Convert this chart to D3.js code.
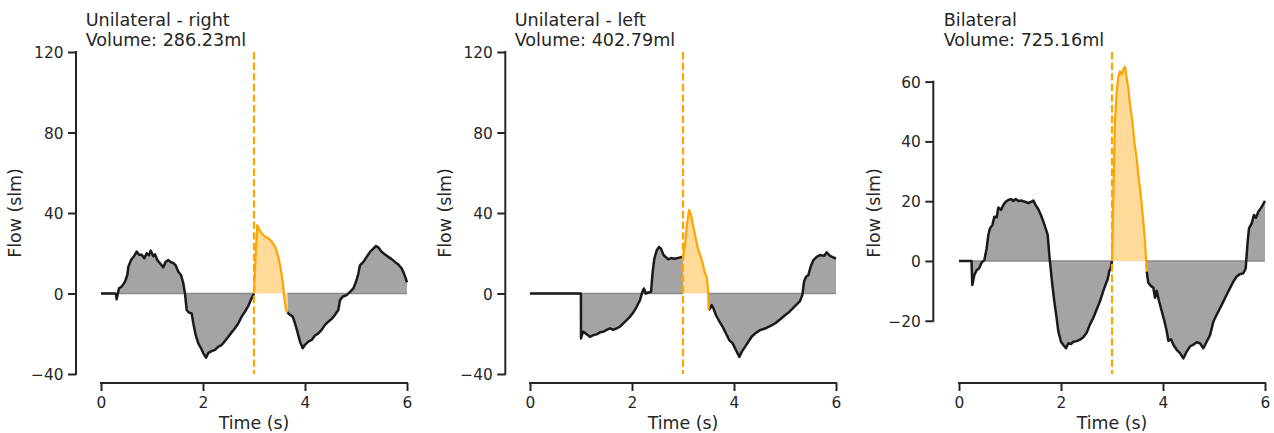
<!DOCTYPE html>
<html>
<head>
<meta charset="utf-8">
<script src="https://cdn.jsdelivr.net/npm/d3@7"></script>
<style>
  html, body { margin: 0; padding: 0; background: #ffffff; }
  svg { display: block; }
  text { font-family: "DejaVu Sans", sans-serif; fill: #262626; }
</style>
</head>
<body>
<svg id="chart" width="1274" height="433"></svg>
<script>
// ---- data -------------------------------------------------------------
const titles = ["Unilateral - right", "Unilateral - left", "Bilateral"];
const volumes = ["286.23", "402.79", "725.16"];

// trigger instant (s) and end of the exhalation window for each recording
const triggerTime = 3;
const exhaleEnd = [3.654, 3.503, 3.68];

const timeTicks = [0, 2, 4, 6];
const flowTicksUnilateral = [-40, 0, 40, 80, 120];
const flowTicksBilateral = [-20, 0, 20, 40, 60];

const timeRight = [0, 0.28, 0.295, 0.307, 0.33, 0.353, 0.405, 0.471, 0.516, 0.536, 0.588, 0.654, 0.699, 0.745, 0.797,
  0.850, 0.895, 0.941, 0.974, 1.026, 1.059, 1.105, 1.157, 1.222, 1.268, 1.320, 1.373, 1.418, 1.464, 1.516,
  1.569, 1.614, 1.647, 1.680, 1.725, 1.778, 1.810, 1.856, 1.908, 1.961, 2.007, 2.059, 2.105, 2.170, 2.235,
  2.301, 2.366, 2.431, 2.497, 2.562, 2.627, 2.693, 2.758, 2.824, 2.889, 2.954, 3.0, 3.03, 3.065, 3.105,
  3.150, 3.216, 3.281, 3.346, 3.412, 3.477, 3.523, 3.562, 3.595, 3.627, 3.654, 3.706, 3.758, 3.804, 3.850,
  3.902, 3.954, 4.0, 4.065, 4.131, 4.196, 4.261, 4.327, 4.392, 4.458, 4.523, 4.588, 4.654, 4.686, 4.739,
  4.817, 4.882, 4.948, 5.0, 5.046, 5.078, 5.144, 5.209, 5.275, 5.340, 5.392, 5.438, 5.503, 5.569, 5.634,
  5.699, 5.765, 5.830, 5.895, 5.941, 5.975, 6.0];
const flowRight = [0, 0, -0.5, -2.9, 0, 2.6, 3.4, 5.9, 9.2, 13.3, 16.6, 18.8, 20.8, 19.3, 19.3,
  17.5, 20, 19.0, 21.3, 18.5, 19.5, 16.6, 15, 13, 15.8, 16.6, 15.5, 15.2, 14.0, 10.8,
  9.2, 5, 0, -8.2, -9.5, -9.9, -14.8, -20.6, -24.8, -27.2, -29.7, -31.9, -29.5, -28.6, -28.0,
  -26.4, -25.6, -23.6, -21.5, -19.3, -17.3, -14.8, -11.5, -9, -6.1, -2.4, 0, 18, 34, 31.6,
  29.9, 28.2, 27.4, 25.8, 23.3, 18.3, 12.5, 5.9, -2.4, -8.2, -9.4, -10.6, -11.5, -14.8, -18.9,
  -23.9, -27.2, -25.5, -23.9, -23.1, -20.9, -19.8, -18.1, -15.6, -14.0, -12.6, -10.6, -8.2, -3.3, -1.6,
  -0.8, 0.8, 2.5, 5.8, 9.9, 14.0, 15.7, 18.2, 20.7, 22.3, 23.6, 22.9, 20.7, 19.4, 18.2,
  17.1, 15.7, 14.4, 12.5, 9.9, 7.5, 5.5];

const timeLeft = [0, 0.998, 1.0, 1.02, 1.046, 1.111, 1.176, 1.242, 1.307, 1.373, 1.438, 1.503, 1.569, 1.634, 1.699,
  1.765, 1.830, 1.895, 1.961, 2.026, 2.092, 2.157, 2.203, 2.235, 2.268, 2.320, 2.373, 2.405, 2.438, 2.484,
  2.529, 2.569, 2.614, 2.660, 2.712, 2.765, 2.830, 2.895, 2.961, 3.0, 3.039, 3.072, 3.118, 3.157, 3.203,
  3.248, 3.301, 3.346, 3.386, 3.431, 3.464, 3.490, 3.503, 3.529, 3.562, 3.60, 3.647, 3.712, 3.778, 3.843,
  3.908, 3.974, 4.039, 4.105, 4.150, 4.216, 4.281, 4.346, 4.412, 4.510, 4.608, 4.706, 4.804, 4.902, 5.0,
  5.098, 5.196, 5.294, 5.340, 5.373, 5.412, 5.458, 5.503, 5.556, 5.621, 5.686, 5.765, 5.817, 5.882, 5.948, 6.0];
const flowLeft = [0, 0, -22.3, -20.5, -19.0, -20.3, -21.5, -20.7, -20.3, -19.3, -19.0, -18.1, -17.3, -18.0, -17.3,
  -16.5, -14.8, -13.2, -11.5, -9.4, -6.6, -3.3, 0.8, 2.5, 0, 0.5, 0.8, 10.7, 17.3, 21.4,
  23.1, 22.3, 19.3, 18.1, 17.0, 17.6, 17.3, 17.6, 18.1, 18.0, 24.1, 33.2, 41.5, 39.0, 33.2,
  27.4, 21.6, 18.3, 15.0, 10.0, 8.4, 2.5, -8.3, -7.5, -5.8, -7.5, -10.8, -13.8, -16.6, -19.9,
  -23.2, -24.8, -28.2, -31.5, -29.0, -26.5, -24.0, -21.5, -19.9, -18.2, -17.4, -16.2, -14.9, -12.9, -10.8,
  -8.8, -6.3, -3.8, -0.8, 5.8, 8.3, 9.1, 13.3, 16.6, 18.2, 19.1, 18.7, 20.4, 18.7, 17.9, 17.4];

const timeBilateral = [0, 0.245, 0.261, 0.301, 0.346, 0.392, 0.444, 0.497, 0.542, 0.575, 0.608, 0.654, 0.693, 0.739, 0.771,
  0.824, 0.869, 0.915, 0.967, 1.020, 1.065, 1.111, 1.163, 1.229, 1.294, 1.359, 1.412, 1.458, 1.503, 1.556,
  1.608, 1.654, 1.699, 1.739, 1.771, 1.797, 1.830, 1.869, 1.915, 1.948, 2.000, 2.046, 2.098, 2.144, 2.196,
  2.242, 2.307, 2.373, 2.438, 2.503, 2.569, 2.634, 2.699, 2.765, 2.830, 2.876, 2.915, 2.948, 2.975, 3.0,
  3.026, 3.059, 3.092, 3.124, 3.157, 3.190, 3.222, 3.255, 3.288, 3.320, 3.353, 3.399, 3.438, 3.484, 3.516,
  3.569, 3.614, 3.647, 3.680, 3.712, 3.765, 3.810, 3.843, 3.876, 3.922, 3.974, 4.026, 4.072, 4.105, 4.157,
  4.203, 4.268, 4.333, 4.399, 4.464, 4.529, 4.595, 4.660, 4.725, 4.791, 4.856, 4.922, 4.987, 5.052, 5.118,
  5.183, 5.248, 5.314, 5.379, 5.444, 5.510, 5.575, 5.621, 5.660, 5.686, 5.739, 5.784, 5.824, 5.869, 5.915,
  5.954, 6.0];
const flowBilateral = [0, 0, -8.0, -4.7, -3.1, -2.5, -0.5, 0.3, 4.2, 8.7, 10.9, 12.0, 14.8, 14.6, 17.9,
  17.1, 18.7, 19.8, 20.4, 20.7, 20.1, 20.7, 20.1, 20.2, 19.8, 19.4, 19.8, 20.2, 18.7, 17.3,
  15.3, 13.2, 10.9, 8.7, 2.0, -2.5, -8.0, -13.6, -19.2, -23.6, -27.0, -28.1, -29.2, -27.5, -27.8,
  -27.0, -26.8, -26.3, -25.5, -24.0, -21.2, -19.0, -16.2, -13.4, -10.0, -7.8, -6.1, -3.3, -2.5, 0,
  22.1, 46.6, 56.7, 61.7, 63.4, 62.3, 64.0, 65.0, 61.1, 57.8, 52.2, 46.6, 39.9, 34.3, 28.8,
  21.0, 13.2, 6.5, -3.5, -7.3, -8.4, -8.9, -12.3, -10.0, -13.4, -16.7, -20.0, -23.4, -26.7, -26.2,
  -28.0, -29.7, -30.8, -32.6, -30.3, -28.6, -28.0, -27.2, -27.5, -29.2, -27.0, -24.8, -20.3, -18.0, -15.8,
  -13.6, -11.3, -9.1, -6.9, -5.2, -4.4, -4.1, -2.5, 6.5, 10.9, 12.6, 15.4, 14.5, 16.5, 17.6,
  18.7, 20.1];

// ---- layout -----------------------------------------------------------
const panels = [
  { time: timeRight, flow: flowRight, yDomain: [-40, 120], yTicks: flowTicksUnilateral, x0: 101, spineX: 76, labelX: 20.8 },
  { time: timeLeft, flow: flowLeft, yDomain: [-40, 120], yTicks: flowTicksUnilateral, x0: 530, spineX: 505.3, labelX: 450.8 },
  { time: timeBilateral, flow: flowBilateral, yDomain: [-37.8, 69.9], yTicks: flowTicksBilateral, x0: 959, spineX: 933.3, labelX: 879.8 }
];
const plotTop = 52, plotBottom = 374, xSpineY = 383, plotWidth = 306;
const tickLen = 8;

const colors = {
  text: "#262626",
  line: "#1a1a1a",
  fill: "#a4a4a4",
  zero: "#8a8a8a",
  orange: "#ffa500",
  orangeFill: "#ffda98"
};

const svg = d3.select("#chart");

panels.forEach((p, i) => {
  const data = p.time.map((t, k) => ({ t, v: p.flow[k] }));
  const end = exhaleEnd[i];

  const x = d3.scaleLinear().domain([0, 6]).range([p.x0, p.x0 + plotWidth]);
  const y = d3.scaleLinear().domain(p.yDomain).range([plotBottom, plotTop]);

  const g = svg.append("g");

  const outside = d => d.t <= triggerTime || d.t >= end;
  const inside = d => d.t >= triggerTime && d.t <= end;

  // grey area between trace and zero, outside the exhalation window
  g.append("path")
    .attr("d", d3.area().defined(outside).x(d => x(d.t)).y0(y(0)).y1(d => y(d.v))(data))
    .attr("fill", colors.fill);

  // exhalation window area
  g.append("path")
    .attr("d", d3.area().x(d => x(d.t)).y0(y(0)).y1(d => y(d.v))(data.filter(inside)))
    .attr("fill", colors.orangeFill);

  // baseline edge of the grey area
  const zeroLine = d3.line().x(d => x(d)).y(() => y(0));
  g.append("path").attr("d", zeroLine([0, triggerTime]))
    .attr("stroke", colors.zero).attr("stroke-width", 1.5).attr("fill", "none");
  g.append("path").attr("d", zeroLine([end, 6]))
    .attr("stroke", colors.zero).attr("stroke-width", 1.5).attr("fill", "none");

  // flow trace
  g.append("path")
    .attr("d", d3.line().defined(outside).x(d => x(d.t)).y(d => y(d.v))(data))
    .attr("fill", "none").attr("stroke", colors.line).attr("stroke-width", 2.5)
    .attr("stroke-linejoin", "round");

  g.append("path")
    .attr("d", d3.line().x(d => x(d.t)).y(d => y(d.v))(data.filter(inside)))
    .attr("fill", "none").attr("stroke", colors.orange).attr("stroke-width", 2.2)
    .attr("stroke-linejoin", "round");

  // trigger marker
  g.append("line")
    .attr("x1", x(triggerTime)).attr("x2", x(triggerTime))
    .attr("y1", plotTop).attr("y2", plotBottom)
    .attr("stroke", colors.orange).attr("stroke-width", 2.2)
    .attr("stroke-dasharray", "7.4,3.2");

  // x axis (offset below the plot)
  const xAxis = g.append("g")
    .attr("transform", `translate(0,${xSpineY})`)
    .call(d3.axisBottom(x).tickValues(timeTicks).tickFormat(d3.format("d"))
      .tickSize(tickLen).tickSizeOuter(0).tickPadding(6));
  // y axis (offset left of the plot, spine trimmed to outer ticks)
  const yAxis = g.append("g")
    .attr("transform", `translate(${p.spineX},0)`)
    .call(d3.axisLeft(y).tickValues(p.yTicks).tickFormat(d3.format("d"))
      .tickSize(tickLen).tickSizeOuter(0).tickPadding(4.5));

  [xAxis, yAxis].forEach(ax => {
    ax.select(".domain").remove();
    ax.selectAll(".tick line").attr("stroke", colors.text).attr("stroke-width", 2);
    ax.selectAll(".tick text").attr("fill", colors.text)
      .style("font-family", "'DejaVu Sans', sans-serif").style("font-size", "15.4px");
  });
  xAxis.selectAll(".tick text").attr("dy", "0.71em");
  yAxis.selectAll(".tick text").attr("dy", "0.36em");

  g.append("line")
    .attr("x1", x(timeTicks[0])).attr("x2", x(timeTicks[timeTicks.length - 1]))
    .attr("y1", xSpineY).attr("y2", xSpineY)
    .attr("stroke", colors.text).attr("stroke-width", 2).attr("stroke-linecap", "square");
  g.append("line")
    .attr("x1", p.spineX).attr("x2", p.spineX)
    .attr("y1", y(p.yTicks[0])).attr("y2", y(p.yTicks[p.yTicks.length - 1]))
    .attr("stroke", colors.text).attr("stroke-width", 2).attr("stroke-linecap", "square");

  // axis labels
  g.append("text")
    .attr("x", x(3)).attr("y", 429)
    .attr("text-anchor", "middle").style("font-size", "17.4px")
    .text("Time (s)");
  g.append("text")
    .attr("transform", `translate(${p.labelX},${(plotTop + plotBottom) / 2}) rotate(-90)`)
    .attr("text-anchor", "middle").style("font-size", "17.4px")
    .text("Flow (slm)");

  // title: two left-aligned lines above the plot
  const tx = x(-0.3);
  const title = g.append("text").style("font-size", "17.6px");
  title.append("tspan").attr("x", tx).attr("y", 25.7).text(titles[i]);
  title.append("tspan").attr("x", tx).attr("y", 46.3).text(`Volume: ${volumes[i]}ml`);
});
</script>
</body>
</html>
